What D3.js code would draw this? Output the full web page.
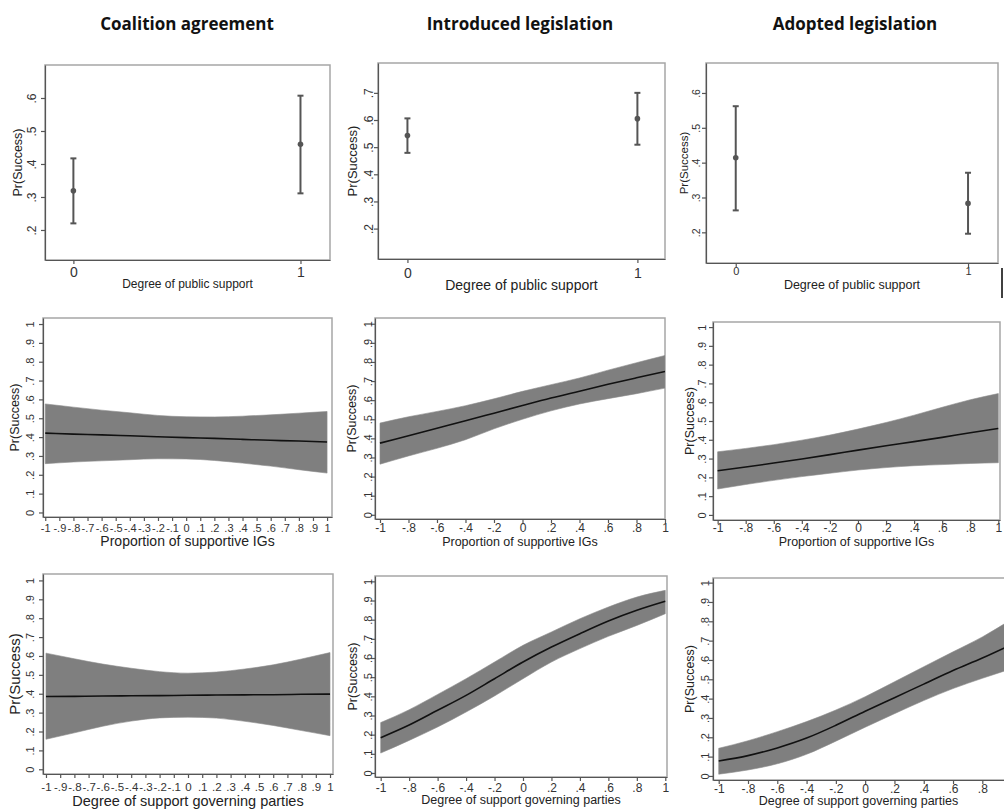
<!DOCTYPE html>
<html>
<head>
<meta charset="utf-8">
<script src="https://cdn.jsdelivr.net/npm/d3@7"></script>
<style>
    body { margin: 0; background: #fff; }
    svg { display: block; font-family: "Liberation Sans", Arial, sans-serif; }
    .col-title { font-family: "Open Sans", sans-serif; font-weight: 700; font-size: 17px; fill: #111; }
    .frame { fill: none; stroke: #a6a6a6; stroke-width: 1.5; }
    .axis path, .axis line { stroke: #555; stroke-width: 1.2; }
    .axis text { fill: #333; }
    .band { fill: #7f7f7f; stroke: #8c8c8c; stroke-width: 0.6; }
    .fit { fill: none; stroke: #111; stroke-width: 1.6; }
    .ci { stroke: #555; stroke-width: 2; }
</style>
</head>
<body>
<svg id="chart" width="1004" height="809"></svg>
<script>
// ---- Texts ----
const colTitles = ["Coalition agreement", "Introduced legislation", "Adopted legislation"];
const xTitles = ["Degree of public support", "Proportion of supportive IGs", "Degree of support governing parties"];
const yTitle = "Pr(Success)";

// ---- Top row: point estimates with 95% CI ----
const supportLevels = [0, 1];
const coalitionEst = [0.319, 0.460];
const coalitionLo  = [0.220, 0.311];
const coalitionHi  = [0.417, 0.607];
const introducedEst = [0.543, 0.605];
const introducedLo  = [0.479, 0.509];
const introducedHi  = [0.606, 0.700];
const adoptedEst = [0.414, 0.283];
const adoptedLo  = [0.263, 0.196];
const adoptedHi  = [0.562, 0.371];

// ---- Middle and bottom rows: predicted curves ----
const xGrid = [-1, -0.8, -0.6, -0.4, -0.2, 0, 0.2, 0.4, 0.6, 0.8, 1];

// Proportion of supportive IGs
const coalitionIgFit = [0.421, 0.416, 0.412, 0.407, 0.402, 0.397, 0.393, 0.388, 0.383, 0.379, 0.374];
const coalitionIgHi  = [0.576, 0.559, 0.543, 0.529, 0.515, 0.508, 0.507, 0.511, 0.518, 0.527, 0.536];
const coalitionIgLo  = [0.259, 0.268, 0.274, 0.280, 0.285, 0.284, 0.276, 0.262, 0.246, 0.227, 0.209];
const introducedIgFit = [0.375, 0.414, 0.453, 0.492, 0.532, 0.572, 0.611, 0.647, 0.683, 0.717, 0.750];
const introducedIgHi  = [0.480, 0.513, 0.541, 0.571, 0.607, 0.646, 0.681, 0.716, 0.757, 0.796, 0.834];
const introducedIgLo  = [0.265, 0.308, 0.348, 0.393, 0.450, 0.500, 0.544, 0.580, 0.608, 0.634, 0.663];
const adoptedIgFit = [0.235, 0.255, 0.276, 0.298, 0.321, 0.345, 0.368, 0.390, 0.413, 0.437, 0.460];
const adoptedIgHi  = [0.336, 0.354, 0.374, 0.398, 0.425, 0.457, 0.492, 0.531, 0.573, 0.613, 0.646];
const adoptedIgLo  = [0.138, 0.162, 0.184, 0.204, 0.222, 0.239, 0.252, 0.262, 0.268, 0.274, 0.278];

// Degree of support governing parties
const coalitionGovFit = [0.385, 0.386, 0.388, 0.389, 0.390, 0.392, 0.393, 0.394, 0.395, 0.397, 0.398];
const coalitionGovHi  = [0.615, 0.585, 0.557, 0.535, 0.517, 0.509, 0.515, 0.531, 0.553, 0.584, 0.618];
const coalitionGovLo  = [0.159, 0.193, 0.228, 0.255, 0.272, 0.276, 0.271, 0.254, 0.232, 0.205, 0.178];
const introducedGovFit = [0.184, 0.250, 0.327, 0.405, 0.492, 0.579, 0.657, 0.727, 0.793, 0.849, 0.896];
const introducedGovHi  = [0.263, 0.330, 0.410, 0.492, 0.579, 0.666, 0.736, 0.805, 0.866, 0.918, 0.953];
const introducedGovLo  = [0.104, 0.170, 0.240, 0.318, 0.402, 0.492, 0.579, 0.649, 0.713, 0.770, 0.831];
const adoptedGovFit = [0.077, 0.105, 0.145, 0.196, 0.262, 0.335, 0.405, 0.475, 0.545, 0.610, 0.680];
const adoptedGovHi  = [0.143, 0.182, 0.229, 0.281, 0.341, 0.410, 0.487, 0.565, 0.642, 0.719, 0.810];
const adoptedGovLo  = [0.009, 0.031, 0.063, 0.112, 0.180, 0.252, 0.322, 0.390, 0.452, 0.505, 0.555];

// ---- Tick values ----
const binaryTicks = [0, 1];
const fineTicks = d3.range(-10, 11).map(d => d / 10);
const coarseTicks = d3.range(-5, 6).map(d => d / 5);
const clippedTicks = d3.range(-5, 5).map(d => d / 5);   // last panel: "1" falls off the picture
const probTicks = d3.range(0, 11).map(d => d / 10);

// Stata style number labels: ".6", "-.8"
const stataFmt = v => {
    const s = (Math.round(v * 10) / 10).toString();
    return s.replace(/^(-?)0\./, "$1.");
};

const svg = d3.select("#chart");

// Column titles
const titleX = [187, 520, 855];
svg.selectAll(".col-title")
    .data(colTitles)
    .enter().append("text")
    .attr("class", "col-title")
    .attr("x", (d, i) => titleX[i])
    .attr("y", 30)
    .attr("text-anchor", "middle")
    .text(d => d);

// Panel layout (pixel boxes)
const panels = [
    {box: {l: 45, t: 65, r: 330, b: 260}, xd: [-0.125, 1.13], yd: [0.109, 0.70], xTicks: binaryTicks, yTicks: [0.2, 0.3, 0.4, 0.5, 0.6],
     xFs: 14, yFs: 12, xtFs: 12, ytFs: 12.5, yLabC: 13, yTitleX: 18, xLabY: 276.5, xTitleY: 288, title: xTitles[0],
     pts: {est: coalitionEst, lo: coalitionLo, hi: coalitionHi}},
    {box: {l: 378, t: 63, r: 665, b: 259}, xd: [-0.128, 1.12], yd: [0.088, 0.81], xTicks: binaryTicks, yTicks: [0.2, 0.3, 0.4, 0.5, 0.6, 0.7],
     xFs: 14, yFs: 12, xtFs: 14, ytFs: 13, yLabC: 9, yTitleX: 352, xLabY: 278, xTitleY: 290, title: xTitles[0],
     pts: {est: introducedEst, lo: introducedLo, hi: introducedHi}},
    {box: {l: 706, t: 63, r: 998, b: 263}, xd: [-0.128, 1.129], yd: [0.112, 0.686], xTicks: binaryTicks, yTicks: [0.2, 0.3, 0.4, 0.5, 0.6],
     xFs: 11, yFs: 10.5, xtFs: 12.5, ytFs: 11.5, yLabC: 9.5, yTitleX: 683.5, xLabY: 274.5, xTitleY: 289, title: xTitles[0],
     pts: {est: adoptedEst, lo: adoptedLo, hi: adoptedHi}},
    {box: {l: 43, t: 318, r: 332, b: 517}, xd: [-1.016, 1.035], yd: [-0.024, 1.032], xTicks: fineTicks, yTicks: probTicks,
     xFs: 11, yFs: 11, xtFs: 14, ytFs: 12.5, yLabC: 13, yTitleX: 15, xLabY: 531.5, xTitleY: 545.5, title: xTitles[1],
     curve: {fit: coalitionIgFit, lo: coalitionIgLo, hi: coalitionIgHi}},
    {box: {l: 375, t: 318, r: 665, b: 519}, xd: [-1.035, 1.0], yd: [-0.022, 1.03], xTicks: coarseTicks, yTicks: probTicks,
     xFs: 12, yFs: 11, xtFs: 12.5, ytFs: 12.5, yLabC: 7, yTitleX: 352, xLabY: 532, xTitleY: 546, title: xTitles[1],
     curve: {fit: introducedIgFit, lo: introducedIgLo, hi: introducedIgHi}},
    {box: {l: 713, t: 322, r: 1000, b: 520}, xd: [-1.033, 1.012], yd: [-0.027, 1.027], xTicks: coarseTicks, yTicks: probTicks,
     xFs: 12, yFs: 11, xtFs: 12.5, ytFs: 12.5, yLabC: 11, yTitleX: 690, xLabY: 532, xTitleY: 546, title: xTitles[1],
     curve: {fit: adoptedIgFit, lo: adoptedIgLo, hi: adoptedIgHi}},
    {box: {l: 43, t: 574, r: 333, b: 774}, xd: [-1.021, 1.021], yd: [-0.025, 1.034], xTicks: fineTicks, yTicks: probTicks,
     xFs: 11.5, yFs: 11, xtFs: 14.5, ytFs: 15, yLabC: 13, yTitleX: 15, xLabY: 791, xTitleY: 806, title: xTitles[2],
     curve: {fit: coalitionGovFit, lo: coalitionGovLo, hi: coalitionGovHi}},
    {box: {l: 375, t: 576, r: 667, b: 777}, xd: [-1.04, 1.012], yd: [-0.021, 1.028], xTicks: coarseTicks, yTicks: probTicks,
     xFs: 12, yFs: 11, xtFs: 12.5, ytFs: 12.5, yLabC: 7, yTitleX: 353, xLabY: 792, xTitleY: 804, title: xTitles[2],
     curve: {fit: introducedGovFit, lo: introducedGovLo, hi: introducedGovHi}},
    {box: {l: 713, t: 578, r: 1016, b: 780}, xd: [-1.039, 1.03], yd: [-0.021, 1.024], xTicks: clippedTicks, yTicks: probTicks,
     xFs: 12, yFs: 11, xtFs: 12.5, ytFs: 12.5, yLabC: 8, yTitleX: 690, xLabY: 793, xTitleY: 805, title: xTitles[2],
     curve: {fit: adoptedGovFit, lo: adoptedGovLo, hi: adoptedGovHi}}
];

panels.forEach(function(p, i) {
    const b = p.box;
    const x = d3.scaleLinear().domain(p.xd).range([b.l, b.r]);
    const y = d3.scaleLinear().domain(p.yd).range([b.b, b.t]);
    const g = svg.append("g").attr("class", "panel");

    // Clip for the bands
    g.append("clipPath")
        .attr("id", "clip" + i)
        .append("rect")
        .attr("x", b.l).attr("y", b.t)
        .attr("width", b.r - b.l).attr("height", b.b - b.t);

    // Plot frame
    g.append("rect")
        .attr("class", "frame")
        .attr("x", b.l).attr("y", b.t)
        .attr("width", b.r - b.l).attr("height", b.b - b.t);

    // Confidence band and fitted line
    if (p.curve) {
        const rows = xGrid.map((v, k) => ({x: v, fit: p.curve.fit[k], lo: p.curve.lo[k], hi: p.curve.hi[k]}));
        const area = d3.area()
            .x(d => x(d.x))
            .y0(d => y(d.lo))
            .y1(d => y(d.hi))
            .curve(d3.curveMonotoneX);
        const line = d3.line()
            .x(d => x(d.x))
            .y(d => y(d.fit))
            .curve(d3.curveMonotoneX);
        const inner = g.append("g").attr("clip-path", `url(#clip${i})`);
        inner.append("path").datum(rows).attr("class", "band").attr("d", area);
        inner.append("path").datum(rows).attr("class", "fit").attr("d", line);
    }

    // Point estimates with error bars
    if (p.pts) {
        const rows = supportLevels.map((v, k) => ({x: v, est: p.pts.est[k], lo: p.pts.lo[k], hi: p.pts.hi[k]}));
        const grp = g.selectAll(".est").data(rows).enter().append("g").attr("class", "est");
        grp.append("line").attr("class", "ci")
            .attr("x1", d => x(d.x)).attr("x2", d => x(d.x))
            .attr("y1", d => y(d.lo)).attr("y2", d => y(d.hi));
        grp.append("line").attr("class", "ci")
            .attr("x1", d => x(d.x) - 3).attr("x2", d => x(d.x) + 3)
            .attr("y1", d => y(d.hi)).attr("y2", d => y(d.hi));
        grp.append("line").attr("class", "ci")
            .attr("x1", d => x(d.x) - 3).attr("x2", d => x(d.x) + 3)
            .attr("y1", d => y(d.lo)).attr("y2", d => y(d.lo));
        grp.append("circle")
            .attr("cx", d => x(d.x)).attr("cy", d => y(d.est))
            .attr("r", 2.8).attr("fill", "#555");
    }

    // X axis
    const xAxis = g.append("g")
        .attr("class", "axis")
        .attr("transform", `translate(0,${b.b})`)
        .call(d3.axisBottom(x).tickValues(p.xTicks).tickFormat(stataFmt).tickSize(4).tickSizeOuter(0));
    xAxis.selectAll(".tick text")
        .attr("y", p.xLabY - b.b)
        .attr("dy", 0)
        .style("font-size", p.xFs + "px");

    // Y axis with rotated labels
    const yAxis = g.append("g")
        .attr("class", "axis")
        .attr("transform", `translate(${b.l},0)`)
        .call(d3.axisLeft(y).tickValues(p.yTicks).tickFormat(stataFmt).tickSize(4).tickSizeOuter(0));
    yAxis.selectAll(".tick text")
        .attr("transform", "rotate(-90)")
        .attr("x", 0)
        .attr("y", -p.yLabC)
        .attr("dy", "0.35em")
        .style("text-anchor", "middle")
        .style("font-size", p.yFs + "px");

    // Axis titles
    g.append("text")
        .attr("x", (b.l + Math.min(b.r, 1004)) / 2)
        .attr("y", p.xTitleY)
        .attr("text-anchor", "middle")
        .style("font-size", p.xtFs + "px")
        .attr("fill", "#222")
        .text(p.title);

    g.append("text")
        .attr("transform", `translate(${p.yTitleX},${(b.t + b.b) / 2}) rotate(-90)`)
        .attr("dy", "0.35em")
        .attr("text-anchor", "middle")
        .style("font-size", p.ytFs + "px")
        .attr("fill", "#222")
        .text(yTitle);
});

// small stray edge mark seen at the right of the top row
svg.append("line")
    .attr("x1", 1002).attr("x2", 1002)
    .attr("y1", 268).attr("y2", 298)
    .attr("stroke", "#000").attr("stroke-width", 1.5);
</script>
</body>
</html>
